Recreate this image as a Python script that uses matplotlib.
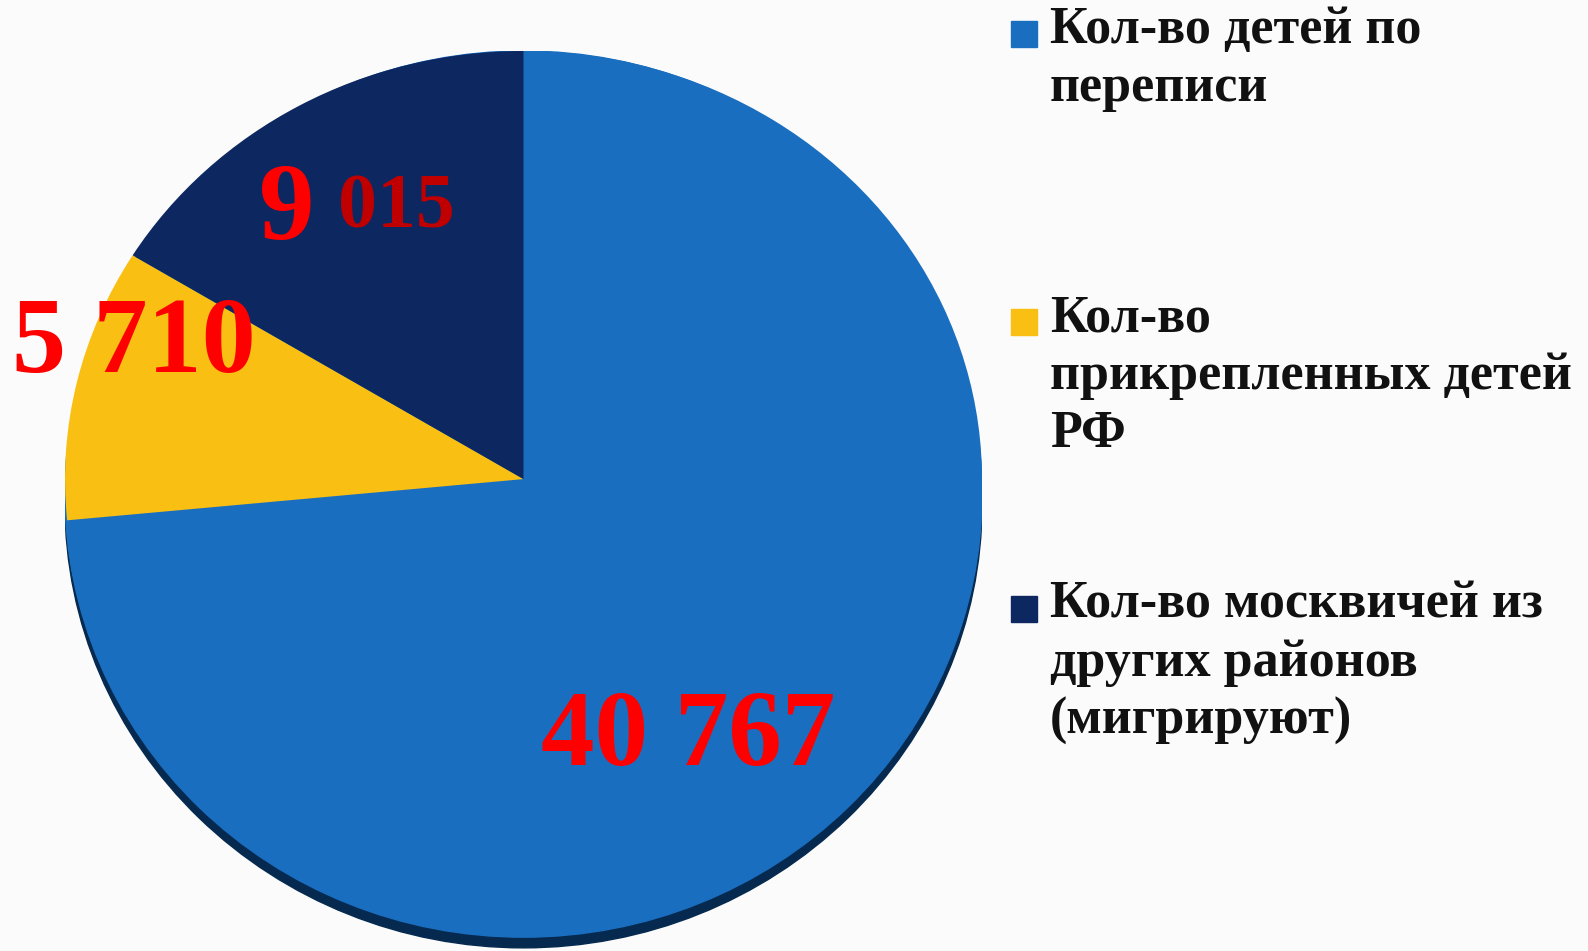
import matplotlib
matplotlib.use("Agg")
import matplotlib.pyplot as plt
from matplotlib.patches import Ellipse, Rectangle

W, H = 1588, 951

categories = [
    "Кол-во детей по\nпереписи",
    "Кол-во\nприкрепленных детей\nРФ",
    "Кол-во москвичей из\nдругих районов\n(мигрируют)",
]
values = [40767, 5710, 9015]
colors = ["#1a6ec0", "#f9bf12", "#0d2761"]

plt.rcParams["font.family"] = ["Liberation Serif", "DejaVu Serif"]

fig = plt.figure(figsize=(W / 100, H / 100), dpi=100)
fig.patch.set_facecolor("#fbfbfb")


def fx(x):
    return x / W


def fy(y):
    return 1 - y / H


# pie axes: data y runs from -1.1 (bottom px 950) to 1 (top px 51)
left, right, top, bottom = 65, 982, 51, 950
ymin = -1.1
ax = fig.add_axes([fx(left), fy(bottom), (right - left) / W, (bottom - top) / H])

# tilted look: a deeper base under the pie plus a dark rim
ax.add_patch(Ellipse((0, -0.06), 2.0, 2.07, color="#062a4f", zorder=0))
ax.add_patch(Ellipse((0, -0.035), 2.0, 2.07, color=colors[0], zorder=0.5))

ax.pie(values, colors=colors, startangle=90, counterclock=False, radius=1,
       wedgeprops=dict(linewidth=0), frame=True)
ax.set_xlim(-1, 1)
ax.set_ylim(ymin, 1)
ax.set_aspect("auto")
ax.axis("off")


# value labels
def fmt(v):
    return f"{v:,}".replace(",", " ")


ax.text(0.36, -0.607, fmt(values[0]), color="#ff0000", fontsize=77,
        fontweight="bold", ha="center", va="center")
ax.text(-0.85, 0.31, fmt(values[1]), color="#ff0000", fontsize=78,
        fontweight="bold", ha="center", va="center")
s = fmt(values[2]).split(" ")
ax.text(-0.455, 0.625, s[0], color="#ff0000", fontsize=80,
        fontweight="bold", ha="right", va="center")
ax.text(-0.405, 0.63, s[1], color="#c00000", fontsize=56,
        fontweight="bold", ha="left", va="center")

# legend drawn by hand
leg_tops = [21, 309, 596]
for cat, col, yt in zip(categories, colors, leg_tops):
    fig.patches.append(Rectangle((fx(1011), fy(yt + 26)), 26 / W, 26 / H,
                                 color=col, transform=fig.transFigure))
    fig.text(fx(1050), fy(yt - 15), cat, fontsize=37.5, fontweight="bold",
             color="#111111", ha="left", va="top", linespacing=1.27)

fig.savefig("out.png", dpi=100, facecolor=fig.get_facecolor())
